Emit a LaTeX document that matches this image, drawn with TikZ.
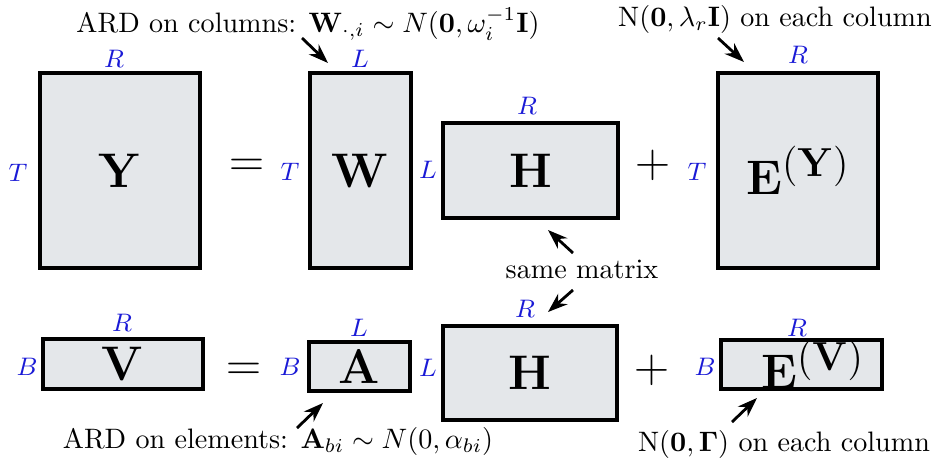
\documentclass[tikz,border=0pt]{standalone}
\usepackage{amsmath}
\usepackage{xcolor}
\usepackage{tikz}
\usetikzlibrary{arrows.meta}
\definecolor{MatFill}{HTML}{E4E7EA}
\definecolor{DimBlue}{HTML}{1A1AD6}

\begin{document}
\begin{tikzpicture}[x=0.0125cm, y=-0.0125cm,
                mat/.style={draw, line width=1.1pt, fill=MatFill, inner sep=0pt,
                            font=\fontsize{19}{22}\selectfont},
                dim/.style={text=DimBlue, font=\small, inner sep=1pt},
                op/.style={font=\LARGE, inner sep=0pt},
                note/.style={font=\normalsize, inner sep=1pt},
                ptr/.style={-{Stealth[length=7pt,width=5pt]}, line width=1pt}]
                \useasboundingbox (0,0) rectangle (937,467);

                % first row: Y = W H + E
                \node[mat, minimum width=2cm,     minimum height=2.4375cm] (Y)  at (120,170.5) {$\mathbf{Y}$};
                \node[mat, minimum width=1.2625cm, minimum height=2.4375cm] (W)  at (360.5,170.5) {$\mathbf{W}$};
                \node[mat, minimum width=2.1875cm, minimum height=1.1875cm] (H)  at (530.5,170.5) {$\mathbf{H}$};
                \node[mat, minimum width=2cm,     minimum height=2.4375cm] (EY) at (798,170.5) {$\mathbf{E}^{(\mathbf{Y})}$};

                \node[op] (eq1)   at (247,168) {$=$};
                \node[op] (plus1) at (653,165) {$+$};

                \node[dim] (yR) at (114,59)  {$R$};
                \node[dim] (yT) at (18,173)  {$T$};
                \node[dim] (wL) at (360,59)  {$L$};
                \node[dim] (wT) at (290,172) {$T$};
                \node[dim] (hR) at (527,106) {$R$};
                \node[dim] (hL) at (428,170) {$L$};
                \node[dim] (eR) at (798,55)  {$R$};
                \node[dim] (eT) at (697,172) {$T$};

                % second row: V = A H + E
                \node[mat, minimum width=2cm,     minimum height=0.625cm]  (V)  at (123,364) {$\mathbf{V}$};
                \node[mat, minimum width=1.2625cm, minimum height=0.6125cm] (A)  at (359.5,366.5) {$\mathbf{A}$};
                \node[mat, minimum width=2.175cm,  minimum height=1.175cm]  (H2) at (530,373) {$\mathbf{H}$};
                \node[mat, minimum width=2.0125cm, minimum height=0.6125cm] (EV) at (801.5,364.5) {\hspace*{8pt}$\mathbf{E}^{(\mathbf{V})}$};

                \node[op] (eq2)   at (244,372) {$=$};
                \node[op] (plus2) at (652,370) {$+$};

                \node[dim] (vR)  at (122,323) {$R$};
                \node[dim] (vB)  at (27,367)  {$B$};
                \node[dim] (aL)  at (359,328) {$L$};
                \node[dim] (aB)  at (290,367) {$B$};
                \node[dim] (h2R) at (525,309) {$R$};
                \node[dim] (h2L) at (428,368) {$L$};
                \node[dim] (evR) at (797,328) {$R$};
                \node[dim] (evB) at (705,367) {$B$};

                % notes
                \node[note] (ardcol)  at (308,24)  {ARD on columns: $\mathbf{W}_{\cdot,i} \sim N(\mathbf{0},\omega_i^{-1}\mathbf{I})$};
                \node[note] (noisey)  at (775,19)  {N$(\mathbf{0},\lambda_r\mathbf{I})$ on each column};
                \node[note] (same)    at (582,269) {same matrix};
                \node[note] (ardel)   at (278,441) {ARD on elements: $\mathbf{A}_{bi} \sim N(0,\alpha_{bi})$};
                \node[note] (noisev)  at (784,444) {N$(\mathbf{0},\mathbf{\Gamma})$ on each column};

                \coordinate (wtail)  at (302,38);  \coordinate (wtip)  at (328,63);
                \coordinate (etail)  at (718,38);  \coordinate (etip)  at (744,62);
                \coordinate (s1tail) at (573,253); \coordinate (s1tip) at (548,230);
                \coordinate (s2tail) at (573,290); \coordinate (s2tip) at (548,312);
                \coordinate (atail)  at (297,428); \coordinate (atip)  at (323,403);
                \coordinate (vtail)  at (732,422); \coordinate (vtip)  at (757,398);

                \draw[ptr] (wtail)  -- (wtip);
                \draw[ptr] (etail)  -- (etip);
                \draw[ptr] (s1tail) -- (s1tip);
                \draw[ptr] (s2tail) -- (s2tip);
                \draw[ptr] (atail)  -- (atip);
                \draw[ptr] (vtail)  -- (vtip);
            \end{tikzpicture}
\end{document}
